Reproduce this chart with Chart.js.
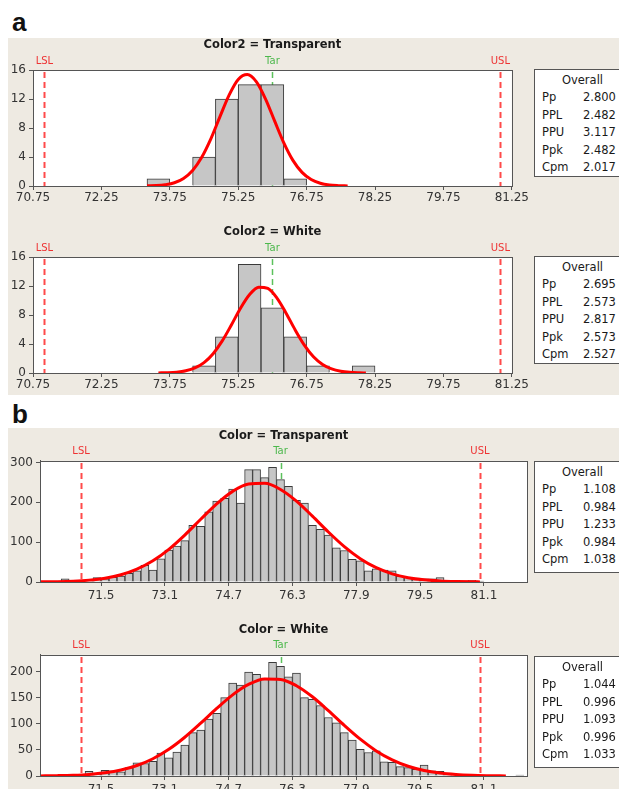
<!DOCTYPE html>
<html>
<head>
<meta charset="utf-8">
<script src="https://cdn.jsdelivr.net/npm/chart.js@4.4.0/dist/chart.umd.min.js"></script>
<style>
    html, body { margin: 0; padding: 0; background: #fff; }
    body { width: 619px; height: 789px; overflow: hidden; position: relative; font-family: "DejaVu Sans", sans-serif; }
    .panel { position: absolute; left: 8px; width: 611px; background: #eeeae2; }
    .tag { position: absolute; left: 12px; font: bold 26px "Liberation Sans", Arial, sans-serif; line-height: 26px; color: #111; }
    canvas { position: absolute; left: 0; }
    .stats { position: absolute; left: 534px; width: 100px; background: #fff; border: 1px solid #555; box-sizing: border-box; font-size: 11.5px; color: #1a1a1a; }
    .stats div { position: absolute; height: 14px; line-height: 14px; white-space: nowrap; }
</style>
</head>
<body>
<div class="tag" style="top:9px">a</div>
<div class="panel" style="top:38px;height:357px"></div>
<div class="tag" style="top:401px">b</div>
<div class="panel" style="top:428px;height:361px"></div>

<canvas id="a1" width="530" height="172" style="top:38px"></canvas>
<canvas id="a2" width="530" height="172" style="top:225px"></canvas>
<canvas id="b1" width="545" height="182" style="top:428px"></canvas>
<canvas id="b2" width="545" height="182" style="top:622px"></canvas>

<script>
// limites de especificacao
const lsl = 71, target = 76, usl = 81;

// a) Color2 - classes de 0.5
const xTicksA = [70.75, 72.25, 73.75, 75.25, 76.75, 78.25, 79.75, 81.25];
const yTicksA = [0, 4, 8, 12, 16];

const binsA1 = [73.5, 74.0, 74.5, 75.0, 75.5, 76.0, 76.5];
const countsA1 = [1, 0, 4, 12, 14, 14, 1];
const curveXA1 = [73.25, 73.45, 73.65, 73.85, 74.05, 74.25, 74.45, 74.65, 74.85, 75.05, 75.25, 75.45, 75.65, 75.85, 76.05, 76.25, 76.45, 76.65, 76.85, 77.05, 77.25, 77.45, 77.65];
const curveYA1 = [0.02, 0.06, 0.18, 0.45, 1.05, 2.15, 3.97, 6.52, 9.58, 12.55, 14.71, 15.39, 14.38, 12.0, 8.95, 5.96, 3.54, 1.88, 0.89, 0.38, 0.14, 0.05, 0.01];

const binsA2 = [74.5, 75.0, 75.5, 76.0, 76.5, 77.0, 77.5, 78.0];
const countsA2 = [1, 5, 15, 9, 5, 1, 0, 1];
const curveXA2 = [73.5, 73.7, 73.9, 74.1, 74.3, 74.5, 74.7, 74.9, 75.1, 75.3, 75.5, 75.7, 75.9, 76.1, 76.3, 76.5, 76.7, 76.9, 77.1, 77.3, 77.5, 77.7, 77.9, 78.05];
const curveYA2 = [0.01, 0.04, 0.12, 0.31, 0.70, 1.44, 2.67, 4.43, 6.63, 8.94, 10.84, 11.85, 11.67, 10.34, 8.26, 5.94, 3.85, 2.24, 1.18, 0.56, 0.24, 0.09, 0.03, 0.01];

// b) Color - classes de 0.2
const xTicksB = [71.5, 73.1, 74.7, 76.3, 77.9, 79.5, 81.1];
const yTicksB1 = [0, 100, 200, 300];
const yTicksB2 = [0, 50, 100, 150, 200];

const binsB1 = [70.6, 70.8, 71.0, 71.2, 71.4, 71.6, 71.8, 72.0, 72.2, 72.4, 72.6, 72.8, 73.0, 73.2, 73.4, 73.6, 73.8, 74.0, 74.2, 74.4, 74.6, 74.8, 75.0, 75.2, 75.4, 75.6, 75.8, 76.0, 76.2, 76.4, 76.6, 76.8, 77.0, 77.2, 77.4, 77.6, 77.8, 78.0, 78.2, 78.4, 78.6, 78.8, 79.0, 79.2, 79.4, 79.6, 79.8, 80.0, 80.2, 80.4, 80.6, 80.8, 81.0];
const countsB1 = [8, 0, 0, 6, 11, 8, 12, 15, 22, 28, 42, 30, 58, 80, 90, 104, 142, 140, 176, 203, 210, 233, 198, 282, 282, 262, 288, 257, 240, 205, 198, 142, 132, 118, 86, 79, 57, 53, 28, 33, 30, 28, 15, 12, 10, 8, 8, 11, 4, 4, 3, 4, 2];
const curveXB1 = [69.95, 70.4, 70.8, 71.2, 71.6, 72.0, 72.4, 72.8, 73.2, 73.6, 74.0, 74.4, 74.8, 75.2, 75.6, 76.0, 76.4, 76.8, 77.2, 77.6, 78.0, 78.4, 78.8, 79.2, 79.6, 80.0, 80.4, 80.8, 81.0];
const curveYB1 = [0.3, 0.9, 2.1, 4.7, 9.6, 18.2, 32.3, 53.3, 82.1, 117.8, 157.4, 196.0, 227.5, 245.9, 247.6, 232.3, 203.1, 165.4, 125.5, 88.8, 58.5, 35.9, 20.5, 10.9, 5.4, 2.5, 1.1, 0.4, 0.3];

const binsB2 = [71.2, 71.4, 71.6, 71.8, 72.0, 72.2, 72.4, 72.6, 72.8, 73.0, 73.2, 73.4, 73.6, 73.8, 74.0, 74.2, 74.4, 74.6, 74.8, 75.0, 75.2, 75.4, 75.6, 75.8, 76.0, 76.2, 76.4, 76.6, 76.8, 77.0, 77.2, 77.4, 77.6, 77.8, 78.0, 78.2, 78.4, 78.6, 78.8, 79.0, 79.2, 79.4, 79.6, 79.8, 80.0, 80.2, 80.4, 80.6, 80.8, 81.0, 81.2, 81.4, 81.6, 81.8, 82.0];
const countsB2 = [9, 4, 11, 10, 8, 16, 25, 24, 28, 44, 35, 46, 59, 83, 88, 109, 120, 150, 178, 174, 199, 195, 185, 218, 210, 190, 197, 150, 147, 135, 112, 102, 83, 69, 51, 45, 48, 27, 26, 18, 16, 13, 21, 10, 9, 5, 0, 0, 0, 0, 0, 0, 0, 0, 2];
const curveXB2 = [69.95, 70.4, 70.8, 71.2, 71.6, 72.0, 72.4, 72.8, 73.2, 73.6, 74.0, 74.4, 74.8, 75.2, 75.6, 76.0, 76.4, 76.8, 77.2, 77.6, 78.0, 78.4, 78.8, 79.2, 79.6, 80.0, 80.4, 80.8, 81.2, 81.65];
const curveYB2 = [0.2, 0.7, 1.5, 3.1, 6.2, 11.5, 20.1, 33.1, 51.1, 74.2, 101.1, 129.4, 155.5, 175.4, 185.9, 185.1, 173.0, 151.8, 125.2, 96.9, 70.5, 48.1, 30.9, 18.6, 10.5, 5.6, 2.8, 1.3, 0.6, 0.2];

// indices de capacidade
const statNames = ['Pp', 'PPL', 'PPU', 'Ppk', 'Cpm'];
const statsA1 = ['2.800', '2.482', '3.117', '2.482', '2.017'];
const statsA2 = ['2.695', '2.573', '2.817', '2.573', '2.527'];
const statsB1 = ['1.108', '0.984', '1.233', '0.984', '1.038'];
const statsB2 = ['1.044', '0.996', '1.093', '0.996', '1.033'];

Chart.defaults.font.family = '"DejaVu Sans", sans-serif';

// fundo branco, linhas LSL / Tar / USL e moldura
const specPlugin = {
    id: 'spec',
    beforeDraw(chart) {
        const a = chart.chartArea, ctx = chart.ctx;
        ctx.save();
        ctx.fillStyle = '#fff';
        ctx.fillRect(a.left, a.top, a.width, a.height);
        ctx.restore();
    },
    beforeDatasetsDraw(chart) {
        const a = chart.chartArea, ctx = chart.ctx, x = chart.scales.x;
        ctx.save();
        ctx.setLineDash([6, 4]);
        [[lsl, '#ff4a4a', 2], [usl, '#ff4a4a', 2], [target, '#5cc15c', 1.5]].forEach(function (s) {
            const px = Math.round(x.getPixelForValue(s[0])) + 0.5;
            ctx.strokeStyle = s[1];
            ctx.lineWidth = s[2];
            ctx.beginPath();
            ctx.moveTo(px, a.top + 2);
            ctx.lineTo(px, a.bottom);
            ctx.stroke();
        });
        ctx.restore();
    },
    afterDraw(chart) {
        const a = chart.chartArea, ctx = chart.ctx, x = chart.scales.x;
        ctx.save();
        ctx.strokeStyle = '#555';
        ctx.lineWidth = 1;
        ctx.strokeRect(Math.round(a.left) + 0.5, Math.round(a.top) + 0.5, Math.round(a.width), Math.round(a.height));
        ctx.font = '10px "DejaVu Sans", sans-serif';
        ctx.textAlign = 'center';
        ctx.textBaseline = 'middle';
        [['LSL', lsl, '#ee3333'], ['Tar', target, '#4cb84c'], ['USL', usl, '#ee3333']].forEach(function (s) {
            ctx.fillStyle = s[2];
            ctx.fillText(s[0], x.getPixelForValue(s[1]), a.top - 9);
        });
        ctx.restore();
    }
};

function histogram(id, cfg) {
    return new Chart(document.getElementById(id), {
        type: 'bar',
        data: {
            datasets: [
                {
                    type: 'line',
                    data: cfg.curveX.map(function (v, i) { return { x: v, y: cfg.curveY[i] }; }),
                    borderColor: '#ff0000',
                    borderWidth: 3,
                    pointRadius: 0,
                    cubicInterpolationMode: 'monotone',
                    order: 1
                },
                {
                    data: cfg.bins.map(function (v, i) { return { x: v, y: cfg.counts[i] }; }),
                    backgroundColor: '#c6c6c6',
                    borderColor: '#3a3a3a',
                    borderWidth: 1,
                    categoryPercentage: 1,
                    barPercentage: 1,
                    order: 2
                }
            ]
        },
        options: {
            responsive: false,
            animation: false,
            layout: { padding: { left: 0, right: cfg.padRight, top: 0, bottom: 0 } },
            plugins: {
                legend: { display: false },
                tooltip: { enabled: false },
                title: {
                    display: true,
                    text: cfg.title,
                    fullSize: false,
                    color: '#1a1a1a',
                    font: { size: 11.5, weight: 'bold' },
                    padding: { top: cfg.titleTop, bottom: cfg.titleBottom }
                }
            },
            scales: {
                x: {
                    type: 'linear',
                    min: cfg.xMin,
                    max: cfg.xMax,
                    offset: false,
                    afterBuildTicks: function (ax) { ax.ticks = cfg.xTicks.map(function (v) { return { value: v }; }); },
                    afterFit: function (ax) { ax.height = cfg.xHeight; },
                    ticks: {
                        callback: function (v) { return v.toFixed(cfg.xDigits); },
                        color: '#333',
                        font: { size: 12 },
                        padding: cfg.xPad,
                        maxRotation: 0,
                        autoSkip: false
                    },
                    grid: { offset: false, drawOnChartArea: false, tickLength: 4, color: '#555' },
                    border: { color: '#555' }
                },
                y: {
                    min: 0,
                    max: cfg.yMax,
                    afterBuildTicks: function (ax) { ax.ticks = cfg.yTicks.map(function (v) { return { value: v }; }); },
                    afterFit: function (ax) { ax.width = cfg.yWidth; },
                    ticks: { color: '#333', font: { size: 12 }, padding: 3 },
                    grid: { drawOnChartArea: false, tickLength: 4, color: '#555' },
                    border: { color: '#555' }
                }
            }
        },
        plugins: [specPlugin]
    });
}

const layoutA = { xMin: 70.75, xMax: 81.25, xTicks: xTicksA, xDigits: 2, yMax: 16, yTicks: yTicksA, yWidth: 33, padRight: 17, titleTop: 0, titleBottom: 18.3, xHeight: 24, xPad: 1 };
const layoutB = { xMin: 69.97, xMax: 82.18, xTicks: xTicksB, xDigits: 1, yWidth: 40, padRight: 18, titleTop: 1, titleBottom: 18.1, xHeight: 28, xPad: 3 };

histogram('a1', Object.assign({}, layoutA, { title: 'Color2 = Transparent', bins: binsA1, counts: countsA1, curveX: curveXA1, curveY: curveYA1 }));
histogram('a2', Object.assign({}, layoutA, { title: 'Color2 = White', bins: binsA2, counts: countsA2, curveX: curveXA2, curveY: curveYA2 }));
histogram('b1', Object.assign({}, layoutB, { title: 'Color = Transparent', yMax: 304, yTicks: yTicksB1, bins: binsB1, counts: countsB1, curveX: curveXB1, curveY: curveYB1 }));
histogram('b2', Object.assign({}, layoutB, { title: 'Color = White', yMax: 232, yTicks: yTicksB2, bins: binsB2, counts: countsB2, curveX: curveXB2, curveY: curveYB2 }));

// caixas "Overall"
function statsBox(top, height, values) {
    const box = document.createElement('div');
    box.className = 'stats';
    box.style.top = top + 'px';
    box.style.height = height + 'px';
    const head = document.createElement('div');
    head.textContent = 'Overall';
    head.style.cssText = 'left:0;width:95px;text-align:center;top:' + (11 - 8) + 'px';
    box.appendChild(head);
    statNames.forEach(function (name, i) {
        const y = 28.4 + i * 17.5 - 8;
        const l = document.createElement('div');
        l.textContent = name;
        l.style.cssText = 'left:7px;top:' + y + 'px';
        const v = document.createElement('div');
        v.textContent = values[i];
        v.style.cssText = 'left:48px;top:' + y + 'px';
        box.appendChild(l);
        box.appendChild(v);
    });
    document.body.appendChild(box);
}

statsBox(69, 108, statsA1);
statsBox(256, 108, statsA2);
statsBox(461, 112, statsB1);
statsBox(656, 112, statsB2);
</script>
</body>
</html>
